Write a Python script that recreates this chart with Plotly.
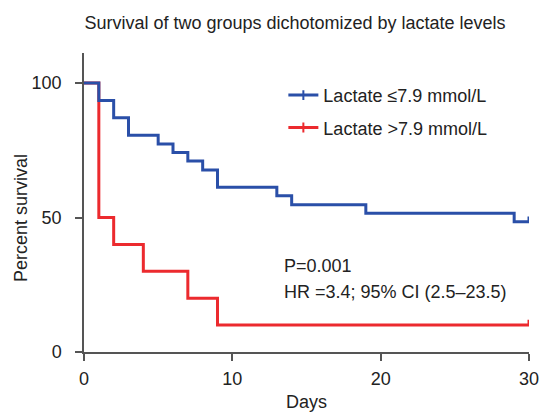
import plotly.graph_objects as go

# Kaplan-Meier data
blue_days = [0, 1, 2, 3, 5, 6, 7, 8, 9, 13, 14, 19, 29, 30]
blue_surv = [100, 93.5, 87.1, 80.6, 77.4, 74.2, 71.0, 67.7, 61.3, 58.1, 54.8, 51.6, 48.4, 48.4]
red_days = [0, 1, 2, 4, 7, 9, 30]
red_surv = [100, 50, 40, 30, 20, 10, 10]
blue_name = "Lactate ≤7.9 mmol/L"
red_name = "Lactate >7.9 mmol/L"
x_ticks = [0, 10, 20, 30]
y_ticks = [0, 50, 100]
stat_lines = ["P=0.001", "HR =3.4; 95% CI (2.5–23.5)"]

BLUE = "#2a4fa8"
RED = "#ec2a2e"
AXIS = "#555555"
TXT = "#222222"
FONT = "Liberation Sans, Arial, Helvetica, sans-serif"
FS = 18
TICK_H = 2.0  # censor tick height (style, in % units)


def with_censor(xs, ys):
    return list(xs) + [xs[-1]], list(ys) + [ys[-1] + TICK_H]


fig = go.Figure()
for days, surv, col, name, grp in [
    (red_days, red_surv, RED, red_name, "r"),
    (blue_days, blue_surv, BLUE, blue_name, "b"),
]:
    xs, ys = with_censor(days, surv)
    fig.add_trace(go.Scatter(x=xs, y=ys, mode="lines", line=dict(color=col, width=3, shape="hv"),
                             showlegend=False, legendgroup=grp, hoverinfo="skip", cliponaxis=False))

# legend entries (line with a censor tick)
for col, name, grp, rank in [(BLUE, blue_name, "b", 1), (RED, red_name, "r", 2)]:
    fig.add_trace(go.Scatter(x=[None], y=[None], mode="lines+markers", name=name,
                             legendgroup=grp, legendrank=rank,
                             line=dict(color=col, width=3),
                             marker=dict(symbol="line-ns", size=7, line=dict(color=col, width=2))))

for i, txt in enumerate(stat_lines):
    fig.add_annotation(x=13.35, y=[32, 22.3][i], xref="x", yref="y", text=txt, showarrow=False,
                       xanchor="left", yanchor="middle", font=dict(size=FS, color=TXT))

fig.add_annotation(x=-0.143, y=50, xref="paper", yref="y", text="Percent survival", textangle=-90,
                   showarrow=False, xanchor="center", yanchor="middle", font=dict(size=FS, color=TXT))

fig.update_layout(
    width=542, height=412,
    margin=dict(l=84, r=13, t=53, b=60, autoexpand=False),
    paper_bgcolor="white", plot_bgcolor="white",
    font=dict(family=FONT, size=FS, color=TXT),
    title=dict(text="Survival of two groups dichotomized by lactate levels", x=295 / 542, xanchor="center",
               y=1 - 23 / 412, yanchor="middle", yref="container", font=dict(size=FS, color=TXT)),
    legend=dict(x=0.448, y=0.92, xanchor="left", yanchor="top", bgcolor="rgba(0,0,0,0)",
                tracegroupgap=6, font=dict(size=FS, color=TXT), traceorder="grouped"),
    xaxis=dict(range=[0, 30], tickvals=x_ticks, showline=True, linecolor=AXIS, linewidth=1.5,
               ticks="outside", ticklen=7, tickwidth=1.5, tickcolor=AXIS, showgrid=False, zeroline=False,
               title=dict(text="Days", standoff=8, font=dict(size=FS, color=TXT)), ticklabelstandoff=3,
               automargin=False, tickfont=dict(size=FS, color=TXT)),
    yaxis=dict(range=[0, 111.2], tickvals=y_ticks, showline=True, linecolor=AXIS, linewidth=1.5,
               ticks="outside", ticklen=7, tickwidth=1.5, tickcolor=AXIS, showgrid=False, zeroline=False,
               ticklabelstandoff=10, automargin=False, tickfont=dict(size=FS, color=TXT)),
)

fig.write_html("out.html", config={"displayModeBar": False},
               post_script="document.body.style.margin='0';document.body.style.overflow='hidden';")
